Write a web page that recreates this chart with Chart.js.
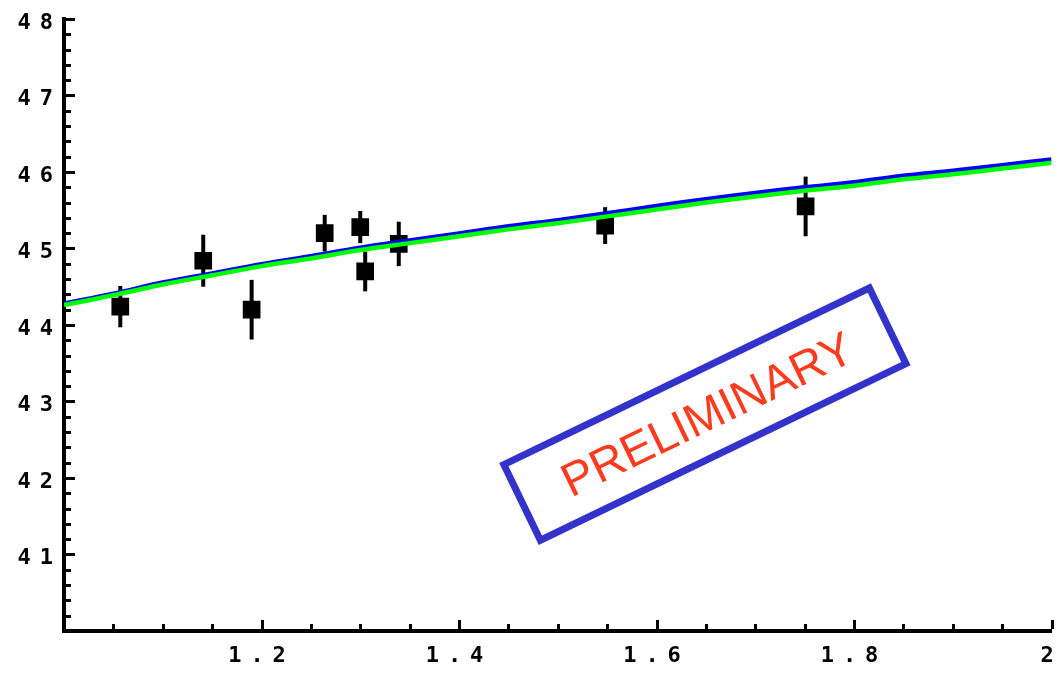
<!DOCTYPE html>
<html>
<head>
<meta charset="utf-8">
<script src="https://cdn.jsdelivr.net/npm/chart.js@4.4.0/dist/chart.umd.min.js"></script>
<style>
  html, body { margin: 0; padding: 0; background: #fff; }
</style>
</head>
<body>
<canvas id="chart" width="1064" height="673"></canvas>
<script>
// axis labels
const xTicks = [1.2, 1.4, 1.6, 1.8, 2];
const yTicks = [41, 42, 43, 44, 45, 46, 47, 48];

// fitted curves (green on top, blue just above it)
const curveX = [1.00, 1.05, 1.10, 1.15, 1.20, 1.25, 1.30, 1.35, 1.40, 1.45, 1.50,
                1.55, 1.60, 1.65, 1.70, 1.75, 1.80, 1.85, 1.90, 1.95, 2.00];
const greenY = [44.26, 44.39, 44.53, 44.65, 44.77, 44.87, 44.98, 45.07, 45.16, 45.25, 45.33,
                45.42, 45.51, 45.60, 45.68, 45.755, 45.82, 45.905, 45.97, 46.045, 46.12];
const blueY  = [44.28, 44.41, 44.555, 44.675, 44.795, 44.9, 45.01, 45.105, 45.195, 45.29, 45.37,
                45.46, 45.555, 45.645, 45.725, 45.8, 45.865, 45.95, 46.015, 46.09, 46.165];

// measured points with errors
const pointX   = [1.057, 1.141, 1.190, 1.264, 1.300, 1.305, 1.339, 1.548, 1.751];
const pointY   = [44.24, 44.84, 44.20, 45.20, 45.28, 44.70, 45.06, 45.30, 45.55];
const pointErr = [0.27, 0.34, 0.39, 0.24, 0.21, 0.26, 0.29, 0.24, 0.39];

const toXY = (xs, ys) => xs.map((x, i) => ({ x: x, y: ys[i] }));

const tickFont = { family: "DejaVu Sans Mono", size: 22, weight: "bold" };

// error bars, drawn under everything else
const errorBars = {
  id: "errorBars",
  beforeDatasetsDraw(chart) {
    const { ctx, scales: { x, y } } = chart;
    ctx.save();
    ctx.strokeStyle = "#000";
    ctx.lineWidth = 4;
    pointX.forEach((px, i) => {
      const xp = x.getPixelForValue(px);
      ctx.beginPath();
      ctx.moveTo(xp, y.getPixelForValue(pointY[i] + pointErr[i]));
      ctx.lineTo(xp, y.getPixelForValue(pointY[i] - pointErr[i]));
      ctx.stroke();
    });
    ctx.restore();
  },
};

// inward tick marks, majors and minors, plus the stamp
const innerTicks = {
  id: "innerTicks",
  beforeDraw(chart) {
    chart.ctx.letterSpacing = "9px";
  },
  afterDraw(chart) {
    const { ctx, scales: { x, y }, chartArea } = chart;
    ctx.save();
    ctx.letterSpacing = "0px";
    ctx.strokeStyle = "#000";
    ctx.lineWidth = 3;
    const left = chartArea.left + 2, bottom = chartArea.bottom - 2;
    for (let v = 40; v <= 48.001; v += 0.2) {
      const major = Math.abs(v - Math.round(v)) < 0.01;
      const yp = Math.round(y.getPixelForValue(v)) + 0.5;
      ctx.beginPath();
      ctx.moveTo(left, yp);
      ctx.lineTo(left + (major ? 9 : 5), yp);
      ctx.stroke();
    }
    for (let v = 1; v <= 2.001; v += 0.05) {
      const major = Math.abs(v * 5 - Math.round(v * 5)) < 0.01;
      const xp = Math.round(x.getPixelForValue(v)) + 0.5;
      ctx.beginPath();
      ctx.moveTo(xp, bottom);
      ctx.lineTo(xp, bottom - (major ? 9 : 5));
      ctx.stroke();
    }
    ctx.restore();

    // PRELIMINARY stamp
    ctx.save();
    ctx.letterSpacing = "0px";
    ctx.translate(x.getPixelForValue(1.649), y.getPixelForValue(42.835));
    ctx.rotate(-25.8 * Math.PI / 180);
    ctx.strokeStyle = "#3333cc";
    ctx.lineWidth = 7;
    ctx.strokeRect(-203, -42, 406, 84);
    ctx.fillStyle = "#ff3b1f";
    ctx.font = '47px "Liberation Sans"';
    ctx.textAlign = "center";
    ctx.textBaseline = "alphabetic";
    ctx.fillText("PRELIMINARY", 2, 17);
    ctx.restore();
  },
};

new Chart(document.getElementById("chart"), {
  type: "scatter",
  plugins: [errorBars, innerTicks],
  data: {
    datasets: [
      {
        type: "line",
        data: toXY(curveX, greenY),
        borderColor: "#00ff00",
        borderWidth: 4.5,
        pointRadius: 0,
        tension: 0.3,
        order: 0,
      },
      {
        type: "line",
        data: toXY(curveX, blueY),
        borderColor: "#0000ff",
        borderWidth: 4.5,
        pointRadius: 0,
        tension: 0.3,
        order: 1,
      },
      {
        data: toXY(pointX, pointY),
        backgroundColor: "#000",
        borderColor: "#000",
        borderWidth: 0,
        pointStyle: "rect",
        pointRadius: 12.5,
        order: 2,
      },
    ],
  },
  options: {
    responsive: false,
    devicePixelRatio: 1,
    animation: false,
    layout: { padding: { top: 19, right: 6, left: 0, bottom: 0 } },
    plugins: {
      legend: { display: false },
      tooltip: { enabled: false },
    },
    scales: {
      x: {
        type: "linear",
        min: 1,
        max: 2,
        grid: { display: false, drawTicks: false },
        border: { display: true, color: "#000", width: 4 },
        afterBuildTicks: (s) => { s.ticks = xTicks.map((v) => ({ value: v })); },
        afterFit: (s) => { s.height = 42; s.paddingLeft = 0; s.paddingRight = 0; },
        ticks: {
          color: "#000",
          font: tickFont,
          padding: 12,
          maxRotation: 0,
          autoSkip: false,
          callback: (v) => (v === 2 ? "2" : v.toFixed(1)),
        },
      },
      y: {
        type: "linear",
        min: 40,
        max: 48,
        grid: { display: false, drawTicks: false },
        border: { display: true, color: "#000", width: 4 },
        afterBuildTicks: (s) => { s.ticks = yTicks.map((v) => ({ value: v })); },
        afterFit: (s) => { s.width = 64; s.paddingTop = 0; s.paddingBottom = 0; },
        ticks: {
          color: "#000",
          font: tickFont,
          padding: 2,
          labelOffset: 4,
          autoSkip: false,
          callback: (v) => String(v),
        },
      },
    },
  },
});
</script>
</body>
</html>
